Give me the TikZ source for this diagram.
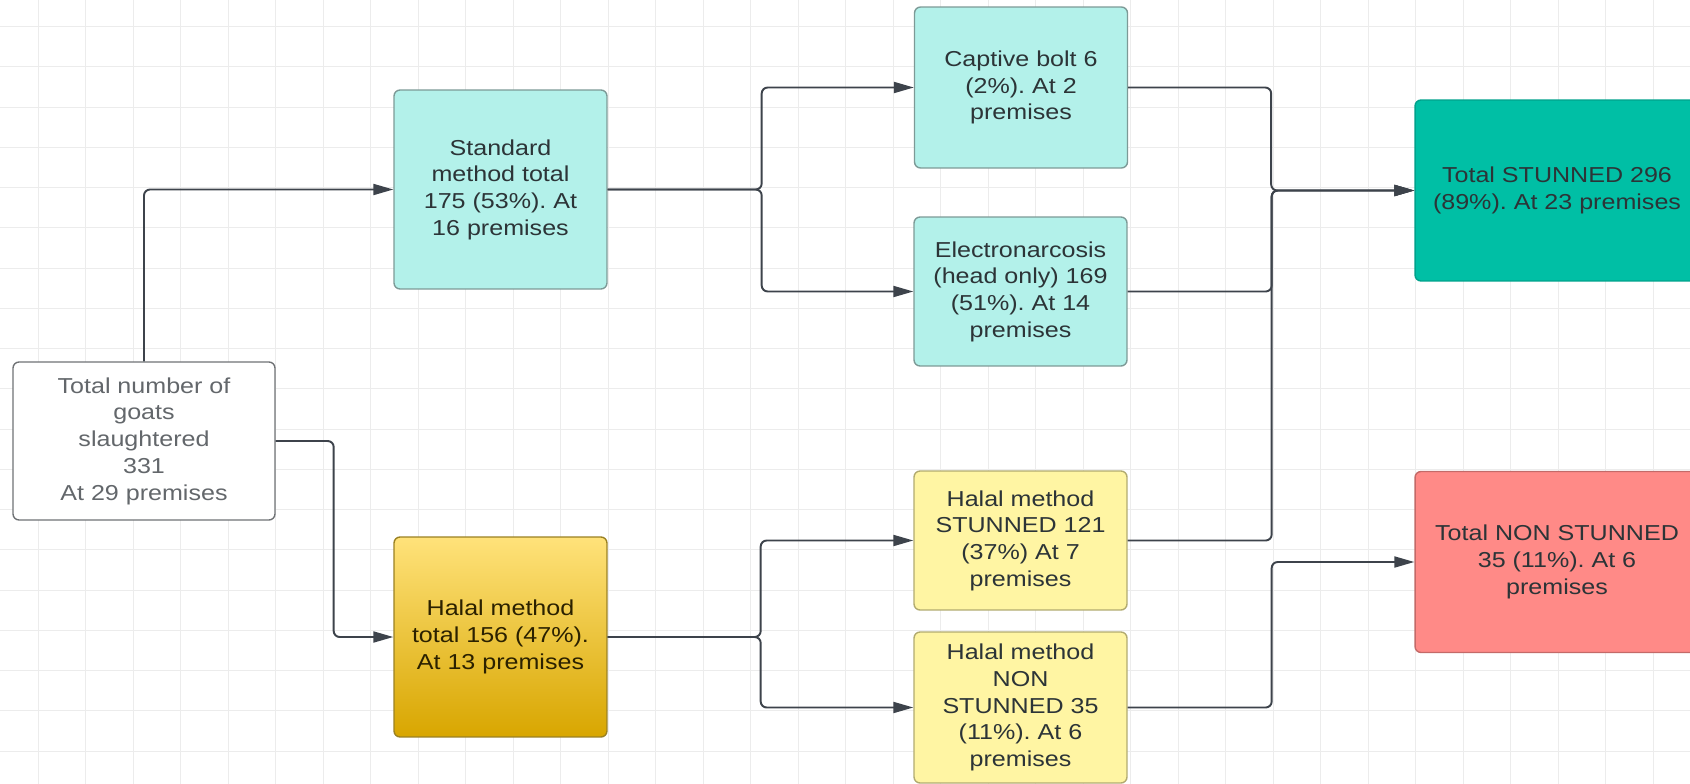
\documentclass[tikz,border=0pt]{standalone}
\usepackage{fontspec}
\setmainfont{Liberation Sans}[FakeStretch=1.16]
\usepackage{xcolor}
\usetikzlibrary{arrows.meta}
\frenchspacing

\definecolor{gridgray}{HTML}{ECECEC}
\definecolor{linegray}{HTML}{3D434B}
\definecolor{textdark}{HTML}{2C3437}
\definecolor{totgray}{HTML}{63676B}
\definecolor{totedge}{HTML}{6F7275}
\definecolor{stdfill}{HTML}{B3F1EA}
\definecolor{stdedge}{HTML}{7D9A97}
\definecolor{goldtop}{HTML}{FFE27A}
\definecolor{goldmid}{HTML}{F6C500}
\definecolor{goldbot}{HTML}{D8A600}
\definecolor{goldedge}{HTML}{9A8122}
\definecolor{halfill}{HTML}{FFF5A3}
\definecolor{haledge}{HTML}{B2AB70}
\definecolor{stunfill}{HTML}{00BFA5}
\definecolor{stunedge}{HTML}{00A28C}
\definecolor{nonfill}{HTML}{FF8A87}
\definecolor{nonedge}{HTML}{C46A68}

\begin{document}
\begin{tikzpicture}[x=0.02cm,y=-0.02cm,
  gridline/.style={draw=gridgray, line width=0.6pt},
  flowbox/.style={rectangle, rounded corners=0.12cm, line width=0.8pt, align=center,
    inner sep=0pt, text=textdark, font=\fontsize{12.3}{15.2}\selectfont},
  conn/.style={draw=linegray, line width=1.1pt, rounded corners=0.12cm},
  arr/.style={conn, -{Triangle[length=0.4cm, width=0.22cm]}}]
  \useasboundingbox (0,0) rectangle (1690,784);
  \clip (0,0) rectangle (1690,784);
  \fill[white] (0,0) rectangle (1690,784);
  % grid paper
  \foreach \i in {0,...,34} \draw[gridline] ({38.3+47.5*\i},0) -- ++(0,784);
  \foreach \j in {0,...,18} \draw[gridline] (0,{26.7+40.25*\j}) -- ++(1690,0);

  \node (tot) [flowbox, draw=totedge, fill=white, text=totgray, minimum width=5.24cm, minimum height=3.16cm] at (144,441)
    {Total number of\\goats\\slaughtered\\331\\At 29 premises};
  \node (std) [flowbox, draw=stdedge, fill=stdfill, minimum width=4.26cm, minimum height=3.98cm] at (500.5,189.5)
    {Standard\\method total\\175 (53\%). At\\16 premises};
  \node (hal) [flowbox, draw=goldedge, top color=goldtop, middle color=goldmid, bottom color=goldbot, text=black!80!goldbot,
    minimum width=4.26cm, minimum height=4cm] at (500.5,637)
    {Halal method\\total 156 (47\%).\\At 13 premises};
  \node (cap) [flowbox, draw=stdedge, fill=stdfill, minimum width=4.26cm, minimum height=3.22cm] at (1021,87.5)
    {Captive bolt 6\\(2\%). At 2\\premises};
  \node (ele) [flowbox, draw=stdedge, fill=stdfill, minimum width=4.26cm, minimum height=2.98cm] at (1020.5,291.5)
    {Electronarcosis\\(head only) 169\\(51\%). At 14\\premises};
  \node (hst) [flowbox, draw=haledge, fill=halfill, minimum width=4.26cm, minimum height=2.78cm] at (1020.5,540.5)
    {Halal method\\STUNNED 121\\(37\%) At 7\\premises};
  \node (hns) [flowbox, draw=haledge, fill=halfill, minimum width=4.26cm, minimum height=3.02cm] at (1020.5,707.5)
    {Halal method\\NON\\STUNNED 35\\(11\%). At 6\\premises};
  \node (tst) [flowbox, draw=stunedge, fill=stunfill, minimum width=5.68cm, minimum height=3.62cm] at (1557,190.5)
    {Total STUNNED 296\\(89\%). At 23 premises};
  \node (tns) [flowbox, draw=nonedge, fill=nonfill, minimum width=5.68cm, minimum height=3.62cm] at (1557,562)
    {Total NON STUNNED\\35 (11\%). At 6\\premises};

  % connectors
  \draw[arr] (tot.north) |- (std.west);
  \draw[arr] (tot.east) -- ++(58,0) |- (hal.west);
  \draw[arr] (std.east) -- ++(154,0) |- (cap.west);
  \draw[arr] (std.east) -- ++(154,0) |- (ele.west);
  \draw[arr] (hal.east) -- ++(153,0) |- (hst.west);
  \draw[arr] (hal.east) -- ++(153,0) |- (hns.west);
  \draw[arr] (cap.east) -- ++(143,0) |- (tst.west);
  \draw[arr] (ele.east) -- ++(144,0) |- (tst.west);
  \draw[arr] (hst.east) -- ++(144,0) |- (tst.west);
  \draw[arr] (hns.east) -- ++(144,0) |- (tns.west);
\end{tikzpicture}
\end{document}
